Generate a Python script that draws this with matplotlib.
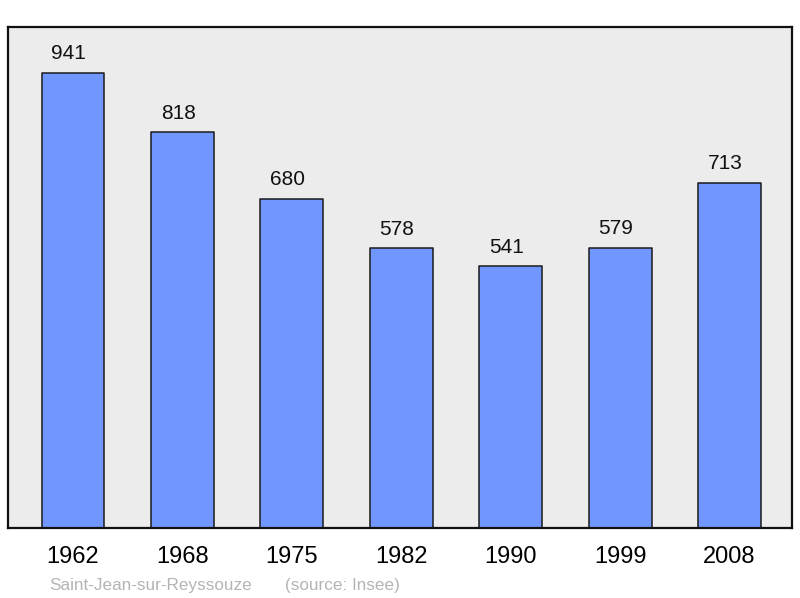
import matplotlib.pyplot as plt

plt.rcParams['font.family'] = ['Liberation Sans', 'DejaVu Sans']

years = ['1962', '1968', '1975', '1982', '1990', '1999', '2008']
population = [941, 818, 680, 578, 541, 579, 713]

fig = plt.figure(figsize=(8, 5.98), dpi=100)
ax = fig.add_axes([0.01, 0.117, 0.98, 0.838])
ax.set_facecolor('#ececec')

x = list(range(len(years)))
bars = ax.bar(x, population, width=0.575, color='#7097ff',
              edgecolor='#1a1a1a', linewidth=1.1, joinstyle='round')

for xi, v in zip(x, population):
    ax.annotate(str(v), (xi, v), xytext=(-3, 7), textcoords='offset points',
                ha='center', va='bottom', fontsize=15, color='#111111')

ax.set_xlim(-0.594, 6.571)
ax.set_ylim(0, 1036)
ax.set_yticks([])
ax.set_xticks(x)
ax.set_xticklabels(years, fontsize=17)
ax.tick_params(axis='x', length=0, pad=13)

for s in ax.spines.values():
    s.set_linewidth(1.6)
    s.set_color('#111111')

# footer: commune name + source
fig.text(0.062, 0.014, 'Saint-Jean-sur-Reyssouze',
         fontsize=12.3, color='#b4b4b4', ha='left', va='baseline')
fig.text(0.356, 0.014, '(source: Insee)',
         fontsize=12.3, color='#b4b4b4', ha='left', va='baseline')

fig.savefig('out.png')
